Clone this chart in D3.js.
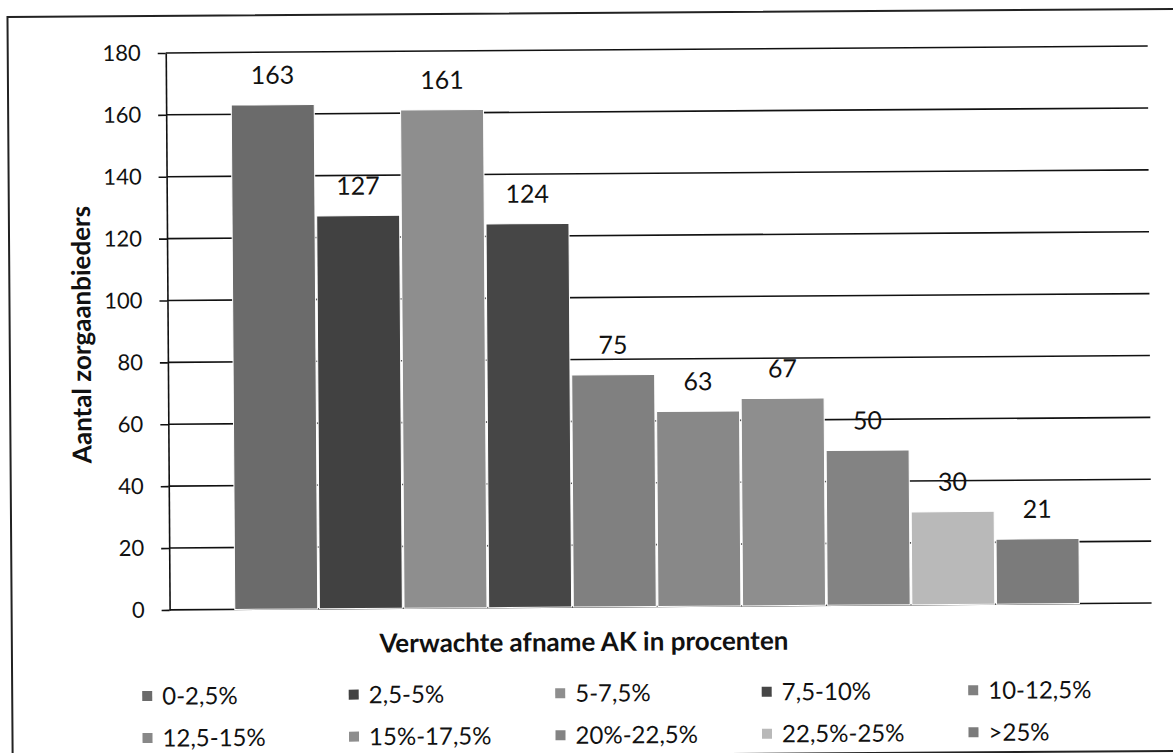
<!DOCTYPE html>
<html>
<head>
<meta charset="utf-8">
<script src="https://cdn.jsdelivr.net/npm/d3@7"></script>
<style>
  html, body { margin: 0; padding: 0; background: #fff; }
  text { font-family: Lato, "Open Sans", sans-serif; fill: #111; }
</style>
</head>
<body>
<div id="chart"></div>
<script>
const categories = ["0-2,5%", "2,5-5%", "5-7,5%", "7,5-10%", "10-12,5%",
                    "12,5-15%", "15%-17,5%", "20%-22,5%", "22,5%-25%", ">25%"];
const values = [163, 127, 161, 124, 75, 63, 67, 50, 30, 21];
const barColors = ["#6b6b6b", "#414141", "#8e8e8e", "#464646", "#808080",
                   "#888888", "#8e8e8e", "#838383", "#b9b9b9", "#7b7b7b"];
const yTicks = [0, 20, 40, 60, 80, 100, 120, 140, 160, 180];

const width = 1173;
const height = 753;

// plot area in page pixels
const plotLeft = 168, plotRight = 1150, plotTop = 50, plotBottom = 607;

const svg = d3.select("#chart")
    .append("svg")
    .attr("width", width)
    .attr("height", height);

// the scan is slightly tilted
const g = svg.append("g")
    .attr("transform", "rotate(-0.4, 586, 376)");

// outer chart box
g.append("rect")
    .attr("x", 10)
    .attr("y", 13)
    .attr("width", 1200)
    .attr("height", 742)
    .attr("fill", "none")
    .attr("stroke", "#222")
    .attr("stroke-width", 2);

const x = d3.scaleBand()
    .domain(categories)
    .range([plotLeft, 1143])
    .paddingInner(0.02)
    .paddingOuter(0.77);

const y = d3.scaleLinear()
    .domain([0, 180])
    .range([plotBottom, plotTop]);

// gridlines
g.selectAll(".grid")
    .data(yTicks)
    .enter()
    .append("line")
    .attr("class", "grid")
    .attr("x1", plotLeft)
    .attr("x2", plotRight)
    .attr("y1", d => y(d))
    .attr("y2", d => y(d))
    .attr("stroke", "#111")
    .attr("stroke-width", 1.6);

// y axis
const yAxis = d3.axisLeft(y)
    .tickValues(yTicks)
    .tickSize(8)
    .tickSizeOuter(0)
    .tickPadding(17);

const axisG = g.append("g")
    .attr("transform", `translate(${plotLeft},0)`)
    .call(yAxis);
axisG.select(".domain").attr("stroke", "#111").attr("stroke-width", 1.6);
axisG.selectAll(".tick line").attr("stroke", "#111").attr("stroke-width", 1.6);
axisG.selectAll(".tick text")
    .attr("font-size", 22)
    .attr("font-family", "Lato, sans-serif")
    .attr("fill", "#111");

// bars
g.selectAll(".bar")
    .data(values)
    .enter()
    .append("rect")
    .attr("class", "bar")
    .attr("x", (d, i) => x(categories[i]))
    .attr("y", d => y(d))
    .attr("width", x.bandwidth())
    .attr("height", d => y(0) - y(d))
    .attr("fill", (d, i) => barColors[i])
    .attr("stroke", "#fff")
    .attr("stroke-width", 1);

// value labels
g.selectAll(".value")
    .data(values)
    .enter()
    .append("text")
    .attr("class", "value")
    .attr("x", (d, i) => x(categories[i]) + x.bandwidth() / 2)
    .attr("y", d => y(d) - 21)
    .attr("text-anchor", "middle")
    .attr("font-size", 25)
    .text(d => d);

// axis titles
g.append("text")
    .attr("transform", "translate(91,331) rotate(-90)")
    .attr("text-anchor", "middle")
    .attr("font-size", 26)
    .attr("font-weight", "bold")
    .text("Aantal zorgaanbieders");

g.append("text")
    .attr("x", 582)
    .attr("y", 651)
    .attr("text-anchor", "middle")
    .attr("font-size", 26)
    .attr("font-weight", "bold")
    .text("Verwachte afname AK in procenten");

// legend, two rows of five
const legend = g.selectAll(".legend-item")
    .data(categories)
    .enter()
    .append("g")
    .attr("class", "legend-item")
    .attr("transform", (d, i) => `translate(${140 + (i % 5) * 206.5},${i < 5 ? 693 : 735})`);

legend.append("rect")
    .attr("x", 0)
    .attr("y", -5)
    .attr("width", 10)
    .attr("height", 10)
    .attr("fill", (d, i) => barColors[i]);

legend.append("text")
    .attr("x", 20)
    .attr("y", 0)
    .attr("dy", "0.36em")
    .attr("font-size", 24)
    .text(d => d);
</script>
</body>
</html>
